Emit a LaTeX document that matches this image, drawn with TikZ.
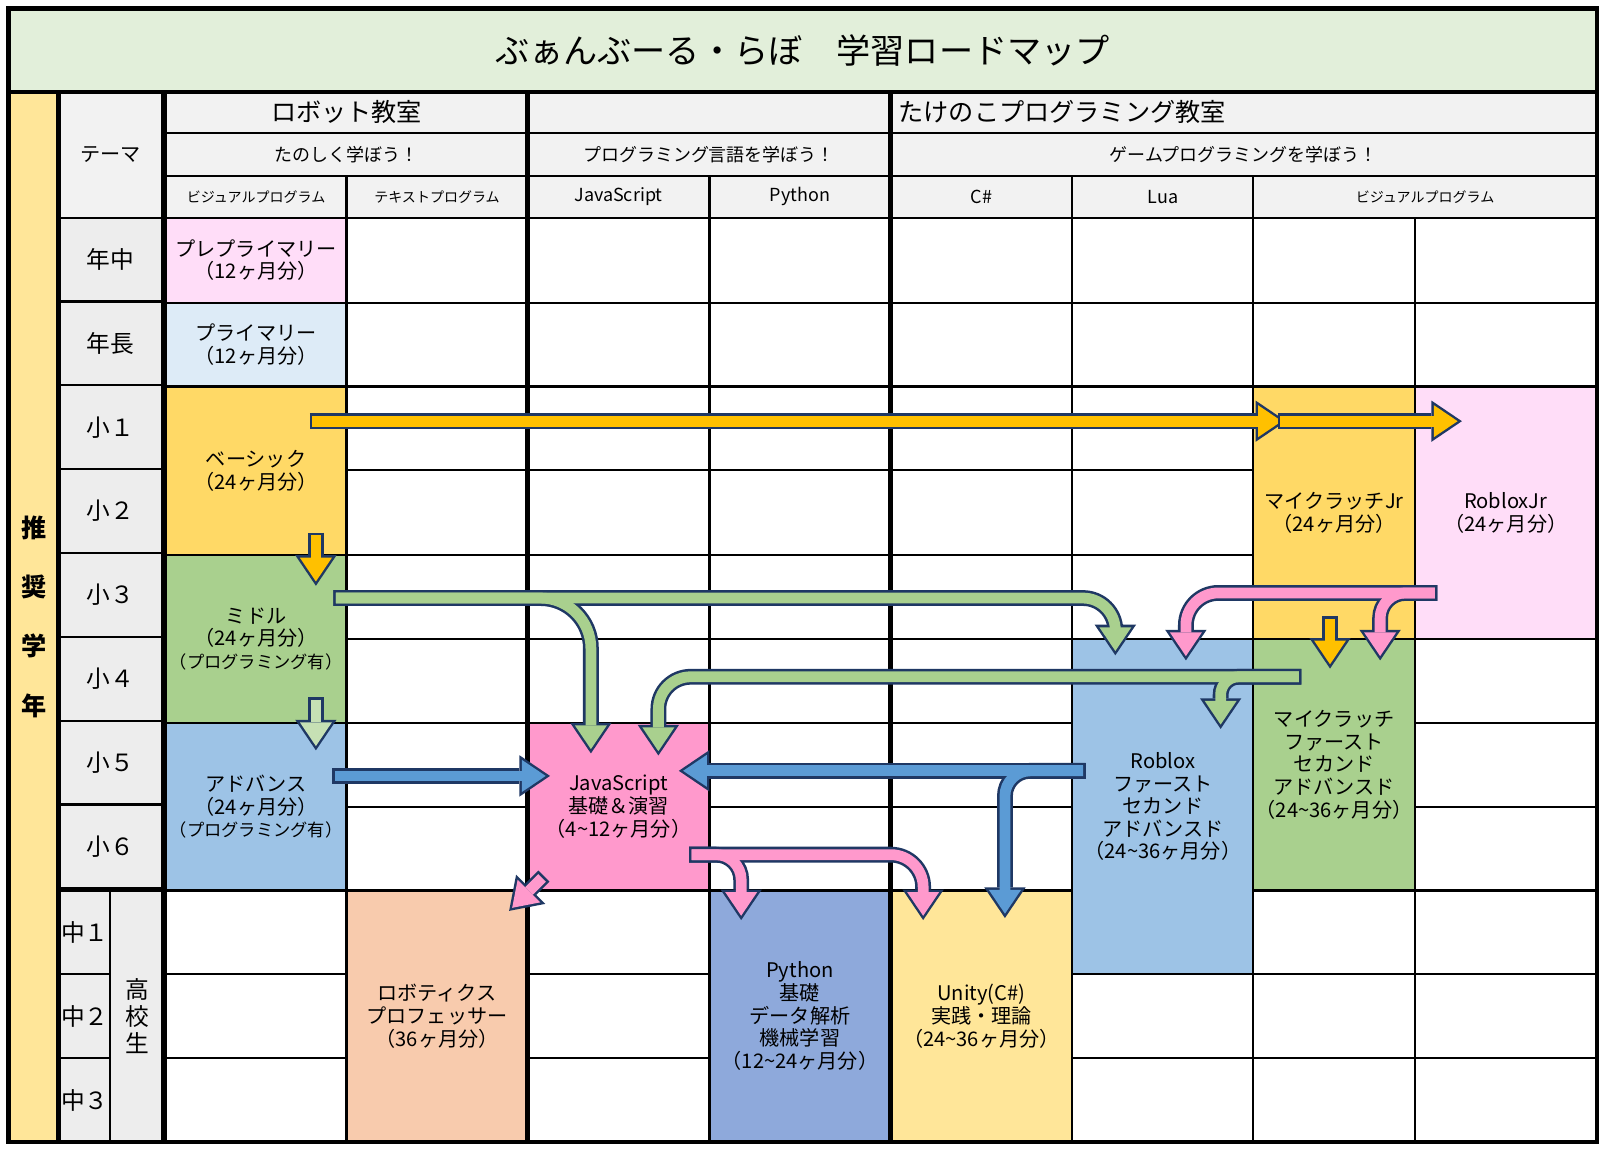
\documentclass[tikz,border=0pt]{standalone}
\usepackage{fontspec}
\setmainfont{Noto Sans CJK JP}
\usetikzlibrary{arrows.meta}
\definecolor{navy}{HTML}{1F3864}
\definecolor{titlegreen}{HTML}{E2EFDA}
\definecolor{headgray}{HTML}{F2F2F2}
\definecolor{labelgray}{HTML}{EDEDED}
\definecolor{colyellow}{HTML}{FFE699}
\definecolor{cpink}{HTML}{FFDDF8}
\definecolor{cblue}{HTML}{DDEBF7}
\definecolor{corange}{HTML}{FFD966}
\definecolor{cgreen}{HTML}{A9D08E}
\definecolor{csky}{HTML}{9DC3E6}
\definecolor{cpeach}{HTML}{F8CBAD}
\definecolor{cjs}{HTML}{FF99CC}
\definecolor{cpy}{HTML}{8EA9DB}
\definecolor{aorange}{HTML}{FFC000}
\definecolor{alight}{HTML}{C6E0B4}
\definecolor{ablue}{HTML}{5B9BD5}
\tikzset{
  grid/.style={draw=black, line width=0.6pt},
  thickline/.style={draw=black, line width=1.3pt},
  celltext/.style={font=\fontsize{5.6}{6.3}\selectfont, align=center, inner sep=0pt},
  rowlabel/.style={font=\fontsize{6.6}{7.5}\selectfont, inner sep=0pt},
  arrowout/.style={draw=navy, line width=4.4pt, -{Triangle[length=8.5pt,width=11.5pt,line width=0pt]}},
  arrowin/.style={draw=#1, line width=3pt, -{Triangle[length=6.6pt,width=8.9pt,line width=0pt]}, shorten >=1.2pt, shorten <=0.7pt},
}
% cell: name, x1, y1, x2, y2, fill, text
\newcommand\cell[7]{\draw[grid,fill=#6] (#2,#3) rectangle (#4,#5);
  \node[celltext] (#1) at ({(#2+#4)/2},{(#3+#5)/2}) {#7};}
\newcommand\fatarrow[2]{\draw[arrowout] #2; \draw[arrowin=#1] #2;}
\newcommand\fatfork[3]{\draw[arrowout] #2; \draw[arrowout] #3; \draw[arrowin=#1] #2; \draw[arrowin=#1] #3;}
\begin{document}
\begin{tikzpicture}[x=0.01cm,y=-0.01cm]
\useasboundingbox (0,0) rectangle (1568,1125);

% Title
\draw[thickline,fill=titlegreen] (8,8) rectangle (1562,90);
\node[font=\fontsize{9.5}{11}\selectfont] (title) at (785,49) {ぶぁんぶーる・らぼ　学習ロードマップ};

% Header rows
\cell{robot}{162}{90}{516}{130}{headgray}{\fontsize{7}{8}\selectfont ロボット教室}
\cell{takenoko}{516}{90}{1562}{130}{headgray}{\fontsize{7}{8}\selectfont たけのこプログラミング教室}
\cell{themeA}{162}{130}{516}{172}{headgray}{\fontsize{5}{6}\selectfont たのしく学ぼう！}
\cell{themeB}{516}{130}{871}{172}{headgray}{\fontsize{5}{6}\selectfont プログラミング言語を学ぼう！}
\cell{themeC}{871}{130}{1562}{172}{headgray}{\fontsize{5}{6}\selectfont ゲームプログラミングを学ぼう！}
\cell{subA}{162}{172}{339}{213}{headgray}{\fontsize{3.9}{4.5}\selectfont ビジュアルプログラム}
\cell{subB}{339}{172}{516}{213}{headgray}{\fontsize{3.9}{4.5}\selectfont テキストプログラム}
\cell{subC}{516}{172}{694}{213}{headgray}{\fontsize{5}{6}\selectfont JavaScript}
\cell{subD}{694}{172}{871}{213}{headgray}{\fontsize{5}{6}\selectfont Python}
\cell{subE}{871}{172}{1049}{213}{headgray}{\fontsize{5}{6}\selectfont C\#}
\cell{subF}{1049}{172}{1226}{213}{headgray}{\fontsize{5}{6}\selectfont Lua}
\cell{subG}{1226}{172}{1562}{213}{headgray}{\fontsize{3.9}{4.5}\selectfont ビジュアルプログラム}
\cell{theme}{57}{90}{160}{213}{headgray}{\fontsize{5.6}{6.5}\selectfont テーマ}

% Body grid
\foreach \xa/\xb in {162/339,339/516,516/694,694/871,871/1049,1049/1226,1226/1384,1384/1562}
  \foreach \ya/\yb in {213/296,296/378,378/460,460/543,543/625,625/707,707/789,789/871,871/953,953/1035,1035/1117}
    \draw[grid,fill=white] (\xa,\ya) rectangle (\xb,\yb);

% Courses
\cell{prepri}{162}{213}{339}{296}{cpink}{プレプライマリー\\（12ヶ月分）}
\cell{primary}{162}{296}{339}{378}{cblue}{プライマリー\\（12ヶ月分）}
\cell{basic}{162}{378}{339}{543}{corange}{ベーシック\\（24ヶ月分）}
\cell{middle}{162}{543}{339}{707}{cgreen}{ミドル\\（24ヶ月分）\\{\fontsize{4.8}{5.6}\selectfont（プログラミング有）}}
\cell{advance}{162}{707}{339}{871}{csky}{アドバンス\\（24ヶ月分）\\{\fontsize{4.8}{5.6}\selectfont（プログラミング有）}}
\cell{professor}{339}{871}{516}{1117}{cpeach}{ロボティクス\\プロフェッサー\\（36ヶ月分）}
\cell{js}{516}{707}{694}{871}{cjs}{JavaScript\\基礎＆演習\\（4\textasciitilde12ヶ月分）}
\cell{python}{694}{871}{871}{1117}{cpy}{Python\\基礎\\データ解析\\機械学習\\（12\textasciitilde24ヶ月分）}
\cell{unity}{871}{871}{1049}{1117}{colyellow}{Unity(C\#)\\実践・理論\\（24\textasciitilde36ヶ月分）}
\cell{roblox}{1049}{625}{1226}{953}{csky}{Roblox\\ファースト\\セカンド\\アドバンスド\\（24\textasciitilde36ヶ月分）}
\cell{mcjr}{1226}{378}{1384}{625}{corange}{マイクラッチJr\\（24ヶ月分）}
\cell{mc}{1226}{625}{1384}{871}{cgreen}{マイクラッチ\\ファースト\\セカンド\\アドバンスド\\（24\textasciitilde36ヶ月分）}
\cell{robloxjr}{1384}{378}{1562}{625}{cpink}{RobloxJr\\（24ヶ月分）}

% Grade labels
\foreach \g [count=\i from 0] in {年中,年長,小１,小２,小３,小４,小５,小６} {
  \draw[grid,fill=labelgray] (57,213+82*\i) rectangle (160,295+82*\i);
  \node[rowlabel] (grade\i) at (108,254+82*\i) {\g};
}
\foreach \g [count=\i from 0] in {中１,中２,中３} {
  \draw[grid,fill=labelgray] (57,871+82*\i) rectangle (108,953+82*\i);
  \node[rowlabel] (junior\i) at (83,912+82*\i) {\g};
}
\draw[grid,fill=labelgray] (108,871) rectangle (160,1117);
\node[rowlabel,align=center,font=\fontsize{6.6}{7.6}\selectfont] (high) at (134,994) {高\\校\\生};

% Recommended age column
\draw[thickline,fill=colyellow] (8,90) rectangle (57,1117);
\node[rowlabel,align=center,font=\bfseries\fontsize{7}{16.5}\selectfont] (recommend) at (33,603) {推\\奨\\学\\年};

% Thick separators
\foreach \x in {160,516,871}
  \draw[thickline] (\x,90) -- (\x,1117);
\draw[thickline] (8,90) -- (1562,90);
\draw[thickline] (8,8) rectangle (1562,1117);

% Arrows
\fatarrow{aorange}{(303,412) -- (1258,412)}
\fatarrow{aorange}{(1250,412) -- (1430,412)}
\fatarrow{aorange}{(309,521) -- (309,573)}
\fatarrow{alight}{(309,682) -- (309,734)}
\fatarrow{aorange}{(1301,603) -- (1301,654)}
\fatfork{cgreen}{[rounded corners=9pt] (326,585) -- (1091,585) -- (1091,641)}{[rounded corners=14pt] (326,585) -- (578,585) -- (578,737)}
\fatfork{cjs}{[rounded corners=9pt] (1406,580) -- (1160,580) -- (1160,646)}{[rounded corners=7pt] (1406,580) -- (1350,580) -- (1350,646)}
\fatfork{cgreen}{[rounded corners=9pt] (1273,662) -- (644,662) -- (644,739)}{[rounded corners=5pt] (1273,662) -- (1194,662) -- (1194,713)}
\fatarrow{ablue}{(325,759) -- (538,759)}
\fatfork{ablue}{(1062,754) -- (664,754)}{[rounded corners=7pt] (1062,754) -- (983,754) -- (983,898)}
\fatfork{cjs}{[rounded corners=7pt] (674,836) -- (725,836) -- (725,900)}{[rounded corners=9pt] (674,836) -- (903,836) -- (903,900)}
\fatarrow{cjs}{(532,857) -- (498,891)}
\end{tikzpicture}
\end{document}
